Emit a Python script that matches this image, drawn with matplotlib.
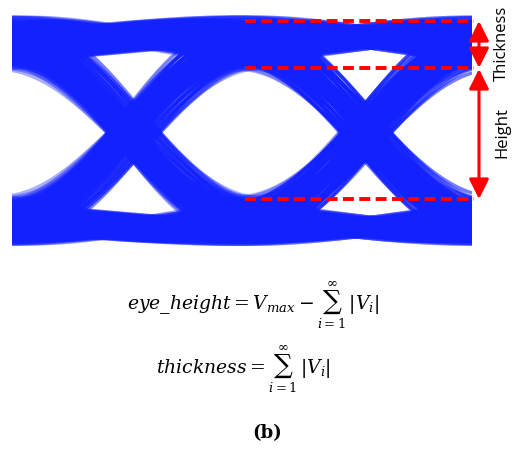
import numpy as np
import matplotlib
matplotlib.use("Agg")
import matplotlib.pyplot as plt
from matplotlib.collections import LineCollection
from itertools import product

# ---------------- data ----------------
# bit sequences seen in the eye: bits in UI slots -2..2 (crossings at t = 0 and t = 1)
bit_patterns = list(product([0, 1], repeat=5))
high_levels = [0.74, 0.77, 0.80, 0.83, 0.86, 0.89, 0.92, 0.95, 0.98, 1.01,
               1.04, 1.07, 1.10, 1.13, 1.16]          # steady '1' levels
low_levels = [-0.76, -0.79, -0.82, -0.85, -0.87, -0.90, -0.93, -0.96, -0.99,
              -1.02, -1.04, -1.07, -1.09, -1.11, -1.13]  # steady '0' levels
slot_shift = [0, 6, 11, 3, 9]                # level-index offset per bit slot (ISI mix)
edge_jitter = [-0.07, -0.06, -0.05, -0.04, -0.03, -0.02, -0.01, 0.0,
               0.01, 0.02, 0.03, 0.04, 0.05, 0.06, 0.07]   # crossing-time offsets (UI)
fast_width, slow_width, slow_share = 1.0, 2.0, 0.2           # edge shape (UI)
marker_levels = [1.11, 0.64, -0.67]          # red dashed reference levels
eq1 = r'$eye\_height = V_{max} - \sum_{i=1}^{\infty}\,|V_i|$'
eq2 = r'$thickness = \sum_{i=1}^{\infty}\,|V_i|$'
panel_label = '(b)'

# ---------------- figure ----------------
W, H = 515, 451
fig = plt.figure(figsize=(W / 100, H / 100), dpi=100)
fig.patch.set_facecolor('white')

ax_l, ax_r, ax_t, ax_b = 12, 472, 12, 248
ax = fig.add_axes([ax_l / W, 1 - ax_b / H, (ax_r - ax_l) / W, (ax_b - ax_t) / H])
x0_px, ui_px, y0_px, v_px = 131, 234, 132, 100
ax.set_xlim((ax_l - x0_px) / ui_px, (ax_r - x0_px) / ui_px)
ax.set_ylim((y0_px - ax_b) / v_px, (y0_px - ax_t) / v_px)
ax.axis('off')

t = np.linspace(ax.get_xlim()[0], ax.get_xlim()[1], 240)


def rc(x, w):
    u = np.clip(x / w + 0.5, 0, 1)
    return (1 - np.cos(np.pi * u)) / 2


def step(x):
    return (1 - slow_share) * rc(x, fast_width) + slow_share * rc(x, slow_width)


n_lv = len(high_levels)
n_j = len(edge_jitter)
segs = []
for bits in bit_patterns:
    for k in range(n_lv):
        lv = [(high_levels if b else low_levels)[(k + s) % n_lv]
              for b, s in zip(bits, slot_shift)]
        for m in range(5):
            j0 = edge_jitter[(k + 3 * m) % n_j]
            j1 = edge_jitter[(2 * k + 5 * m + 4) % n_j]
            js = [0.0, j0, j1, 0.0]
            v = np.full_like(t, lv[0])
            for i, (tc, jj) in enumerate(zip([-1, 0, 1, 2], js)):
                v = v + (lv[i + 1] - lv[i]) * step(t - tc - jj)
            segs.append(np.column_stack([t, v]))

lc = LineCollection(segs, colors=[(0.07, 0.13, 1.0, 0.10)], linewidths=2.4)
ax.add_collection(lc)

# ---------------- annotations ----------------
red = '#ff0000'
x_start = (245 - x0_px) / ui_px
x_end = (474 - x0_px) / ui_px
for yv in marker_levels:
    ax.plot([x_start, x_end], [yv, yv], color=red, lw=2.8, ls=(0, (2.8, 1.4)),
            clip_on=False, dash_capstyle='butt')

xa = (479 - x0_px) / ui_px
arrow_kw = dict(arrowstyle='<|-|>,head_length=0.8,head_width=0.4', color=red, lw=2.2,
                shrinkA=0, shrinkB=0, mutation_scale=15)
ax.annotate('', xy=(xa, marker_levels[0]), xytext=(xa, marker_levels[1]),
            arrowprops=arrow_kw, annotation_clip=False)
ax.annotate('', xy=(xa, marker_levels[1] - 0.01), xytext=(xa, marker_levels[2]),
            arrowprops=arrow_kw, annotation_clip=False)

fig.text(502 / W, 1 - 43 / H, 'Thickness', rotation=90, ha='center', va='center',
         fontsize=12, family='Open Sans', color='black')
fig.text(502 / W, 1 - 133 / H, 'Height', rotation=90, ha='center', va='center',
         fontsize=12, family='Open Sans', color='black')

plt.rcParams['mathtext.fontset'] = 'dejavuserif'
fig.text(253 / W, 1 - 305 / H, eq1, ha='center', va='center', fontsize=13.5)
fig.text(243 / W, 1 - 369 / H, eq2, ha='center', va='center', fontsize=13.5)
fig.text(267 / W, 1 - 433 / H, panel_label, ha='center', va='center', fontsize=13,
         family='DejaVu Serif', weight='bold')

fig.savefig('out.png', dpi=100, facecolor='white')
